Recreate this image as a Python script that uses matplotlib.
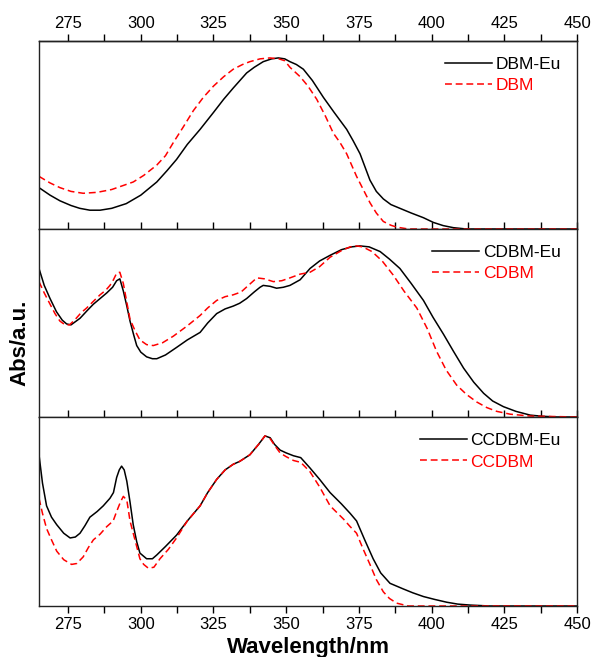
import matplotlib
matplotlib.use("Agg")
import matplotlib.pyplot as plt
from matplotlib.ticker import MultipleLocator, FixedLocator

plt.rcParams['font.family'] = ['Liberation Sans', 'DejaVu Sans']

# ---------------- data (normalized absorbance) ----------------
dbm_eu_x = [265, 268.8, 272.2, 276, 279, 282.5, 286, 290, 295, 300, 305.5, 309, 312.3, 316, 320.4,
            325, 328.5, 331.8, 336.4, 339, 342.1, 345, 347.3, 349.5, 351.3, 353.5, 355.9, 359,
            362.8, 366.5, 370.8, 373, 375.4, 378.8, 381, 383.4, 386, 389.1, 393, 397.2, 400.6,
            404, 407.5, 412, 450]
dbm_eu_y = [0.22, 0.18, 0.15, 0.125, 0.11, 0.10, 0.10, 0.11, 0.135, 0.18, 0.25, 0.31, 0.37, 0.45,
            0.53, 0.62, 0.69, 0.75, 0.83, 0.86, 0.89, 0.905, 0.91, 0.905, 0.89, 0.875, 0.85, 0.79,
            0.70, 0.62, 0.53, 0.47, 0.40, 0.26, 0.20, 0.16, 0.13, 0.11, 0.085, 0.06, 0.035,
            0.018, 0.007, 0.0, 0.0]

dbm_x = [265, 268.8, 272.2, 276, 280.2, 285, 290, 297.4, 301, 305.5, 308.5, 311.2, 314.5, 318.1,
         321.5, 325, 328.5, 331.8, 335, 337.5, 341, 344.4, 347.5, 349.5, 351.3, 354.8, 357.5,
         360.5, 363.5, 366.2, 368.5, 370.8, 374.2, 376.5, 378.8, 381, 383.4, 386, 388, 392, 450]
dbm_y = [0.28, 0.245, 0.22, 0.20, 0.19, 0.195, 0.21, 0.25, 0.285, 0.34, 0.39, 0.46, 0.54, 0.63,
         0.70, 0.76, 0.81, 0.85, 0.875, 0.89, 0.905, 0.91, 0.905, 0.895, 0.86, 0.81, 0.76,
         0.69, 0.60, 0.51, 0.46, 0.40, 0.28, 0.21, 0.14, 0.085, 0.04, 0.02, 0.01, 0.0, 0.0]

cdbm_eu_x = [265, 266.8, 268.8, 271, 273, 274.5, 276, 279.1, 281.5, 283.7, 286, 288.3, 290.3, 291.7,
             292.8, 294, 295.2, 296.3, 297.5, 298.6, 300, 302, 304, 305.5, 308.5, 312.3, 316,
             320.4, 323, 326.1, 329, 331.8, 334, 336.4, 339, 341, 342.1, 344.5, 346.7, 349,
             351.3, 354.8, 358.2, 361.5, 365.1, 369, 372.5, 375.4, 378.5, 382.3, 385.5, 389.1,
             393, 397.2, 400.5, 404.1, 407.5, 411, 414.5, 417.9, 421, 424.7, 429, 433.9, 438,
             443, 450]
cdbm_eu_y = [0.79, 0.70, 0.63, 0.56, 0.515, 0.495, 0.49, 0.525, 0.565, 0.60, 0.63, 0.66, 0.69, 0.725,
             0.735, 0.67, 0.59, 0.51, 0.44, 0.38, 0.345, 0.32, 0.31, 0.31, 0.33, 0.37, 0.41,
             0.45, 0.50, 0.55, 0.575, 0.59, 0.605, 0.63, 0.665, 0.69, 0.70, 0.695, 0.685, 0.69,
             0.70, 0.73, 0.79, 0.83, 0.86, 0.89, 0.905, 0.91, 0.905, 0.88, 0.84, 0.79,
             0.71, 0.62, 0.53, 0.44, 0.35, 0.26, 0.185, 0.126, 0.085, 0.055, 0.03, 0.01, 0.004,
             0.0, 0.0]

cdbm_x = [265, 266.8, 268.8, 270.5, 272.2, 274, 275.5, 277.5, 279.5, 281.4, 284, 286, 288, 289.4,
          290.6, 291.7, 292.8, 294, 295.2, 296.3, 298, 299.7, 302, 304.3, 307.5, 311.2, 316,
          320.4, 323, 326.1, 329, 331.8, 334.5, 337, 339.9, 342.5, 345.6, 348.5, 351.3, 354.8,
          358.2, 361.5, 365.1, 369, 372, 374.2, 376.3, 379.5, 383, 386.8, 390.5, 394.9, 398.5,
          401.7, 405, 408.6, 412, 415.5, 419, 422.4, 427, 433.9, 450]
cdbm_y = [0.72, 0.66, 0.60, 0.55, 0.51, 0.49, 0.49, 0.52, 0.555, 0.58, 0.62, 0.65, 0.675, 0.70,
          0.73, 0.765, 0.77, 0.71, 0.61, 0.52, 0.46, 0.41, 0.385, 0.38, 0.395, 0.43, 0.485,
          0.54, 0.58, 0.62, 0.64, 0.65, 0.665, 0.70, 0.74, 0.735, 0.72, 0.725, 0.74, 0.76,
          0.77, 0.80, 0.85, 0.885, 0.905, 0.91, 0.905, 0.88, 0.83, 0.755, 0.67, 0.58, 0.47,
          0.35, 0.25, 0.17, 0.12, 0.08, 0.05, 0.03, 0.015, 0.005, 0.0]

ccdbm_eu_x = [265, 266.2, 267.6, 269.3, 271.1, 273.5, 275.7, 277.5, 279.1, 280.8, 282.5, 285, 287.1,
              289.4, 290.6, 291.7, 292.6, 293.4, 294.3, 295.2, 296.3, 297.4, 298.6, 299.7, 302,
              304, 305.5, 308.5, 312.3, 316, 320.4, 323, 326.1, 329, 331.8, 334, 337.5, 340.5,
              342.7, 344.5, 346, 347.9, 350, 352.5, 355, 358.2, 361.5, 365.1, 369, 372, 374.2,
              377, 379.9, 382.5, 385.7, 390.3, 393.5, 397.2, 401, 405.2, 409, 413.2, 420, 450]
ccdbm_eu_y = [0.80, 0.65, 0.53, 0.47, 0.43, 0.385, 0.36, 0.365, 0.385, 0.425, 0.47, 0.50, 0.53,
              0.57, 0.60, 0.68, 0.72, 0.74, 0.72, 0.66, 0.55, 0.43, 0.34, 0.28, 0.25,
              0.25, 0.27, 0.315, 0.375, 0.45, 0.53, 0.60, 0.67, 0.72, 0.75, 0.765, 0.80, 0.855,
              0.90, 0.89, 0.855, 0.825, 0.81, 0.795, 0.785, 0.73, 0.67, 0.60, 0.54, 0.49, 0.45,
              0.35, 0.25, 0.175, 0.12, 0.09, 0.07, 0.05, 0.035, 0.02, 0.01, 0.005, 0.0, 0.0]

ccdbm_x = [265, 266.2, 267.6, 269.3, 271.1, 273.5, 276.2, 278, 280.2, 282, 283.7, 286, 288.3,
           290.5, 291.7, 293, 294, 295.2, 296.3, 298, 299.7, 301, 302.6, 304.5, 306.6, 309.5,
           312.3, 316, 320.4, 323, 326.1, 329, 331.8, 334, 337.5, 340.5, 342.7, 344.5, 346,
           347.9, 350, 352.5, 355, 358.2, 361.5, 365.1, 369.7, 372, 374.2, 376.5, 378.8,
           381, 383.4, 385.5, 388, 392, 450]
ccdbm_y = [0.57, 0.49, 0.41, 0.35, 0.29, 0.245, 0.22, 0.225, 0.26, 0.31, 0.35, 0.38, 0.42,
           0.45, 0.50, 0.55, 0.58, 0.56, 0.45, 0.35, 0.25, 0.22, 0.20, 0.205, 0.25, 0.30,
           0.36, 0.45, 0.53, 0.60, 0.67, 0.72, 0.75, 0.765, 0.80, 0.855, 0.90, 0.885, 0.85,
           0.81, 0.79, 0.77, 0.76, 0.71, 0.63, 0.53, 0.46, 0.42, 0.385, 0.30, 0.22,
           0.14, 0.075, 0.04, 0.015, 0.0, 0.0]

panels = [
    (dbm_eu_x, dbm_eu_y, dbm_x, dbm_y, "DBM-Eu", "DBM"),
    (cdbm_eu_x, cdbm_eu_y, cdbm_x, cdbm_y, "CDBM-Eu", "CDBM"),
    (ccdbm_eu_x, ccdbm_eu_y, ccdbm_x, ccdbm_y, "CCDBM-Eu", "CCDBM"),
]
x_range = (265, 450)
major_ticks = [275, 300, 325, 350, 375, 400, 425, 450]
minor_ticks = [287.5, 312.5, 337.5, 362.5, 387.5, 412.5, 437.5]

# ---------------- figure ----------------
W, H = 591, 657
fig = plt.figure(figsize=(W / 100, H / 100), dpi=100)
left, right = 39 / W, 577 / W
tops = [41, 229, 417]
bots = [229, 417, 606]

axes = []
for i, (xa, ya, xb, yb, la, lb) in enumerate(panels):
    ax = fig.add_axes([left, 1 - bots[i] / H, right - left, (bots[i] - tops[i]) / H])
    ax.plot(xa, ya, color='black', lw=1.1, label=la)
    ax.plot(xb, yb, color='red', lw=1.1, ls=(0, (4.5, 2.5)), label=lb)
    ax.set_xlim(*x_range)
    ax.set_ylim(0, 1.0)
    ax.set_yticks([])
    ax.xaxis.set_major_locator(FixedLocator(major_ticks))
    ax.xaxis.set_minor_locator(FixedLocator(minor_ticks))
    for s in ax.spines.values():
        s.set_linewidth(1.0)
        s.set_color('#222222')
    leg = ax.legend(loc='upper right', frameon=False, fontsize=12.5, handlelength=2.7,
                    handletextpad=0.2, labelspacing=0.35, borderaxespad=0.3,
                    bbox_to_anchor=(0.992, 0.979))
    for t, c in zip(leg.get_texts(), ['black', 'red']):
        t.set_color(c)
    axes.append(ax)

a0, a1, a2 = axes
a0.tick_params(axis='x', which='both', top=False, bottom=True, labeltop=False, labelbottom=False,
               direction='in', length=5, width=1)
sec = a0.secondary_xaxis('top')
sec.xaxis.set_major_locator(FixedLocator(major_ticks))
sec.xaxis.set_minor_locator(FixedLocator(minor_ticks))
sec.tick_params(axis='x', which='both', direction='out', length=5, width=1, labelsize=12, pad=2)
sec.spines['top'].set_linewidth(1.0)

a1.tick_params(axis='x', which='both', top=False, bottom=True, labelbottom=False,
               direction='in', length=5, width=1)
a2.tick_params(axis='x', which='both', top=False, bottom=True, labelbottom=True,
               direction='out', length=5, width=1, labelsize=12, pad=3)

fig.text(20 / W, 1 - 343 / H, "Abs/a.u.", rotation=90, ha='center', va='center',
         fontsize=16, fontweight='bold')
fig.text(308 / W, 1 - 647 / H, "Wavelength/nm", ha='center', va='center',
         fontsize=16, fontweight='bold')

fig.savefig("out.png", dpi=100)
